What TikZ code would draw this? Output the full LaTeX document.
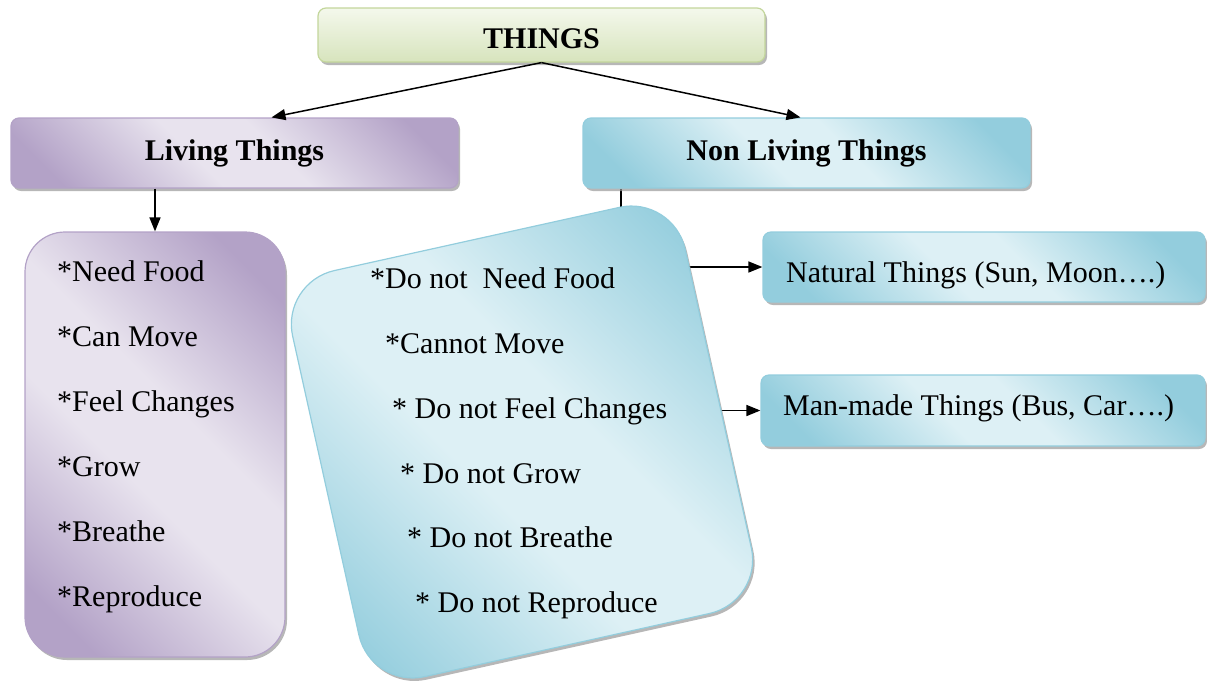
\documentclass[tikz,border=0pt]{standalone}
\usepackage{fontspec}
\setmainfont{Liberation Serif}
\usetikzlibrary{arrows.meta,shadows,backgrounds}
\definecolor{purpD}{HTML}{B3A2C7}
\definecolor{purpL}{HTML}{E8E3EE}
\definecolor{blueD}{HTML}{93CDDD}
\definecolor{blueL}{HTML}{DDF0F5}
\definecolor{greenB}{HTML}{C3D69B}
\definecolor{greenT}{HTML}{F4F8EC}
\definecolor{greenM}{HTML}{D7E4BD}
\pgfdeclarehorizontalshading{purpgrad}{100bp}{color(0bp)=(purpD); color(22bp)=(purpD); color(44bp)=(purpL); color(56bp)=(purpL); color(78bp)=(purpD); color(100bp)=(purpD)}
\pgfdeclarehorizontalshading{bluegrad}{100bp}{color(0bp)=(blueD); color(22bp)=(blueD); color(44bp)=(blueL); color(56bp)=(blueL); color(78bp)=(blueD); color(100bp)=(blueD)}
\tikzset{
  box/.style={draw, line width=1.2pt, rounded corners=8pt, inner sep=0pt,
    font=\fontsize{30}{36}\selectfont,
    drop shadow={shadow xshift=2pt, shadow yshift=-3pt, fill=black!40, opacity=0.7}},
  purpbox/.style={box, draw=purpD, shading=purpgrad, shading angle=45},
  bluebox/.style={box, draw=blueD, shading=bluegrad, shading angle=45},
  greenbox/.style={box, draw=greenB, top color=greenT, bottom color=greenM},
  txt/.style={inner sep=0pt, anchor=base west, font=\fontsize{30}{36}\selectfont},
  conn/.style={line width=1.5pt, -{Triangle[length=14pt,width=11pt]}},
  plain/.style={line width=1.5pt}
}
\begin{document}
\begin{tikzpicture}[x=1pt,y=-1pt]
\useasboundingbox (0,0) rectangle (1207,681);
% boxes
\node[greenbox, minimum width=447pt, minimum height=54pt, text height=26pt, text depth=0pt] (things) at (541.5,35) {\bfseries THINGS};
\node[purpbox, minimum width=447pt, minimum height=70pt] (living) at (234.5,153) {\bfseries Living Things};
\node[bluebox, minimum width=447pt, minimum height=70pt] (nonliving) at (806.5,153) {\bfseries Non Living Things};
\node[purpbox, rounded corners=40pt, minimum width=260pt, minimum height=425pt] (livlist) at (155,444.5) {};
\node[bluebox, rounded corners=55pt, minimum width=402pt, minimum height=416pt, rotate=12.5] (nonlist) at (522,442) {};
\node[bluebox, minimum width=442pt, minimum height=70pt] (natural) at (984,267) {};
\node[bluebox, minimum width=444pt, minimum height=71pt] (manmade) at (983,410.5) {};
% texts
\node[txt] (l1) at (57,281) {*Need Food};
\node[txt] (l2) at (57,346) {*Can Move};
\node[txt] (l3) at (57,411) {*Feel Changes};
\node[txt] (l4) at (57,476) {*Grow};
\node[txt] (l5) at (57,541) {*Breathe};
\node[txt] (l6) at (57,606) {*Reproduce};
\node[txt] (n1) at (370,288) {*Do not~ Need Food};
\node[txt] (n2) at (385,353) {*Cannot Move};
\node[txt] (n3) at (392,418) {* Do not Feel Changes};
\node[txt] (n4) at (400,483) {* Do not Grow};
\node[txt] (n5) at (407,547) {* Do not Breathe};
\node[txt] (n6) at (415,612) {* Do not Reproduce};
\node[txt] (natt) at (786,282) {Natural Things (Sun, Moon….)};
\node[txt] (mant) at (783,415) {Man-made Things (Bus, Car….)};
% connectors
\draw[conn] (things.south) -- ([xshift=37pt]living.north);
\draw[conn] (things.south) -- ([xshift=-6pt]nonliving.north);
\draw[conn] ([xshift=-79.5pt]living.south) -- (livlist.north);
\begin{pgfonlayer}{background}
\draw[plain] ([xshift=-185.5pt]nonliving.south) -- ++(0,40);
\draw[conn] (nonlist.center |- natural.west) -- (natural.west);
\draw[conn] (nonlist.center |- manmade.west) -- (manmade.west);
\end{pgfonlayer}
\end{tikzpicture}
\end{document}
